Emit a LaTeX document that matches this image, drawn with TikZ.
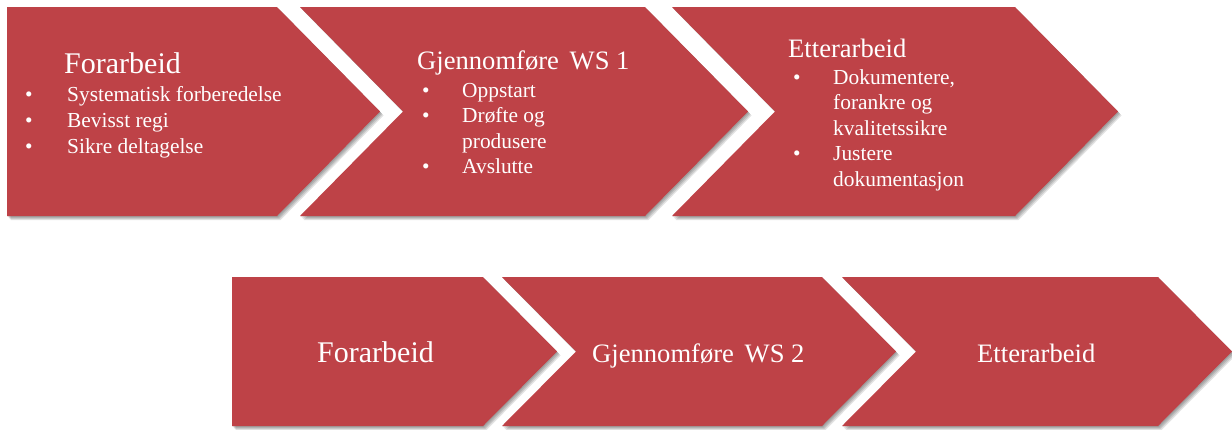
\documentclass[tikz,border=0pt]{standalone}
\usepackage{fontspec}
\setmainfont{Liberation Serif}
\definecolor{chevred}{RGB}{190,66,71}
% #1 x0, #2 x1, #3 y0, #4 y1, #5 tip depth, #6 notch depth
\newcommand\chevshape[6]{%
  \foreach \s in {1,...,4}{%
    \begin{scope}[shift={(\s*0.9,\s*1.0)}]
      \fill[black,opacity=.11] (#1,#3) -- (#2,#3) -- ({#2+#5},{(#3+#4)/2}) -- (#2,#4) -- (#1,#4) -- ({#1+#6},{(#3+#4)/2}) -- cycle;
    \end{scope}}%
  \fill[chevred] (#1,#3) -- (#2,#3) -- ({#2+#5},{(#3+#4)/2}) -- (#2,#4) -- (#1,#4) -- ({#1+#6},{(#3+#4)/2}) -- cycle;}
\newcommand\blist[2]{\begin{tabular}[t]{@{}p{#1}@{}l@{}}#2\end{tabular}}
\begin{document}
\begin{tikzpicture}[x=1pt,y=-1pt,
  txt/.style={anchor=base west, inner sep=0pt, text=white},
  big/.style={font=\fontsize{30}{36}\selectfont},
  mid/.style={font=\fontsize{26.6}{31}\selectfont},
  lst/.style={font=\fontsize{21.4}{25.5}\selectfont},
  lstA/.style={font=\fontsize{21.4}{26}\selectfont}]
\useasboundingbox (0,0) rectangle (1232,429);
\fill[white] (0,0) rectangle (1232,429);
% top row
\chevshape{7}{277}{7}{216}{103}{0}
\chevshape{300}{645}{7}{216}{103}{103}
\chevshape{672}{1015}{7}{216}{103}{103}
% bottom row
\chevshape{232}{483}{277}{426}{74}{0}
\chevshape{502}{822}{277}{426}{74}{74}
\chevshape{842}{1158}{277}{426}{74}{74}
% top texts
\node[txt,big] (t1) at (64,73) {Forarbeid};
\node[txt,lstA] (l1) at (25,101) {\blist{42pt}{\textbullet & Systematisk forberedelse\\ \textbullet & Bevisst regi\\ \textbullet & Sikre deltagelse}};
\node[txt,mid] (t2) at (417,69) {Gjennomføre\hspace{0.4em}WS 1};
\node[txt,lst] (l2) at (422,97) {\blist{40pt}{\textbullet & Oppstart\\ \textbullet & Drøfte og\\ & produsere\\ \textbullet & Avslutte}};
\node[txt,mid] (t3) at (788,57) {Etterarbeid};
\node[txt,lst] (l3) at (793,84) {\blist{40pt}{\textbullet & Dokumentere,\\ & forankre og\\ & kvalitetssikre\\ \textbullet & Justere\\ & dokumentasjon}};
% bottom texts
\node[txt,big] (b1) at (317,362) {Forarbeid};
\node[txt,mid] (b2) at (592,362) {Gjennomføre\hspace{0.4em}WS 2};
\node[txt,mid] (b3) at (977,362) {Etterarbeid};
\end{tikzpicture}
\end{document}
